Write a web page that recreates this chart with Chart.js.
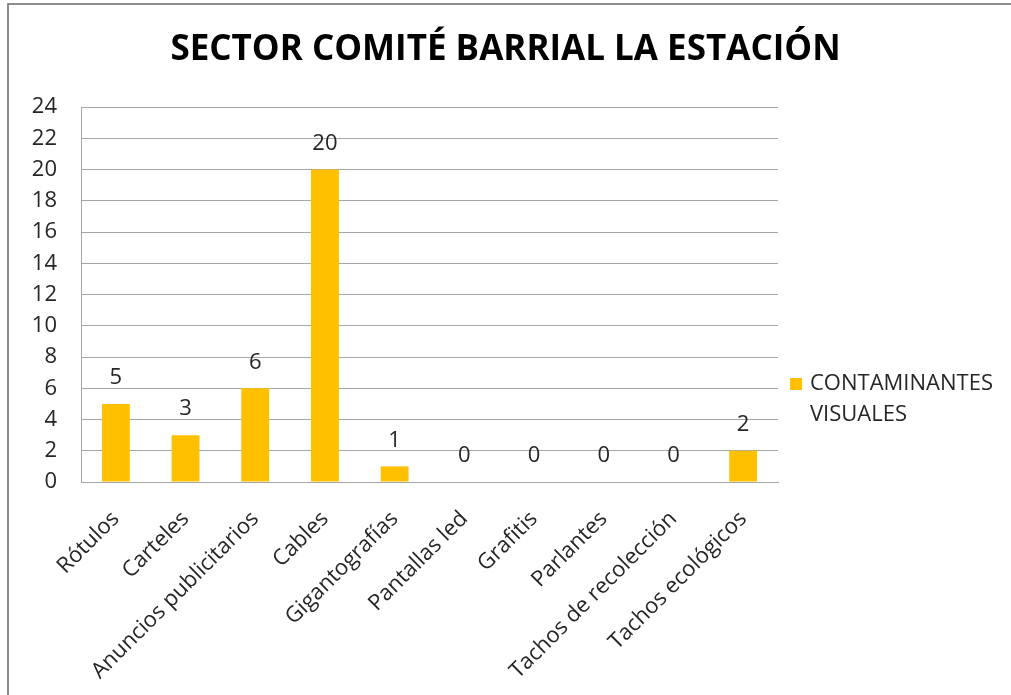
<!DOCTYPE html>
<html lang="es">
<head>
    <meta charset="UTF-8">
    <title>Sector Comité Barrial La Estación</title>
    <style>
        body { margin: 0; background: #fff; }
        #marco { position: absolute; left: 7px; top: 3px; width: 1010px; height: 700px;
                 border-top: 2px solid #8c8c8c; border-left: 2px solid #8c8c8c; pointer-events: none; }
        #grafico { position: absolute; left: 0; top: 0; }
    </style>
</head>
<body>
<canvas id="grafico" width="1011" height="695"></canvas>
<div id="marco"></div>

<script src="https://cdn.jsdelivr.net/npm/chart.js"></script>

<script>
    // datos
    const categorias = ['Rótulos', 'Carteles', 'Anuncios publicitarios', 'Cables', 'Gigantografías',
        'Pantallas led', 'Grafitis', 'Parlantes', 'Tachos de recolección', 'Tachos ecológicos']
    const cantidades = [5, 3, 6, 20, 1, 0, 0, 0, 0, 2]
    const nombreSerie = 'CONTAMINANTES VISUALES'
    const ticksY = [0, 2, 4, 6, 8, 10, 12, 14, 16, 18, 20, 22, 24]

    const fuente = "'Open Sans', sans-serif"
    const gris = '#a6a6a6'

    // numeros encima de cada barra
    const etiquetas = {
        id: 'etiquetas',
        afterDatasetsDraw(chart) {
            const ctx = chart.ctx
            ctx.save()
            ctx.font = '22px ' + fuente
            ctx.fillStyle = '#262626'
            ctx.textAlign = 'center'
            ctx.textBaseline = 'middle'
            chart.getDatasetMeta(0).data.forEach((barra, i) => {
                ctx.fillText(chart.data.datasets[0].data[i], barra.x, barra.y - 26)
            })
            ctx.restore()
        }
    }

    // leyenda a la derecha en dos lineas
    const leyenda = {
        id: 'leyenda',
        afterDraw(chart) {
            const ctx = chart.ctx
            const area = chart.chartArea
            const ds = chart.data.datasets[0]
            const x = area.right + 12
            const y = area.top + 277
            ctx.save()
            ctx.fillStyle = ds.backgroundColor
            ctx.fillRect(x, y - 6, 12, 12)
            ctx.font = '22px ' + fuente
            ctx.fillStyle = '#262626'
            ctx.textBaseline = 'middle'
            ds.label.split(' ').forEach((linea, i) => ctx.fillText(linea, x + 20, y + i * 31))
            ctx.restore()
        }
    }

    const ctx = document.getElementById('grafico')
    const grafico = new Chart(ctx, {
        type: 'bar',
        data: {
            labels: categorias,
            datasets: [{
                label: nombreSerie,
                data: cantidades,
                backgroundColor: '#ffc000',
                barPercentage: 0.8,
                categoryPercentage: 0.5
            }]
        },
        plugins: [etiquetas, leyenda],
        options: {
            responsive: false,
            animation: false,
            layout: { padding: 0 },
            plugins: {
                legend: { display: false },
                tooltip: { enabled: false },
                title: {
                    display: true,
                    text: 'SECTOR COMITÉ BARRIAL LA ESTACIÓN',
                    color: '#000',
                    font: { family: fuente, size: 35, weight: 'bold' },
                    padding: { top: 29, bottom: 36 }
                }
            },
            scales: {
                x: {
                    grid: { display: false, drawTicks: false },
                    border: { color: gris, width: 1 },
                    ticks: {
                        color: '#262626',
                        font: { family: fuente, size: 22 },
                        minRotation: 45,
                        maxRotation: 45,
                        padding: 24
                    },
                    afterFit(scale) { scale.height = 213 }
                },
                y: {
                    min: 0,
                    max: 24,
                    afterBuildTicks(scale) { scale.ticks = ticksY.map(v => ({ value: v })) },
                    grid: { color: gris, drawTicks: false },
                    border: { color: gris, width: 1 },
                    ticks: {
                        color: '#262626',
                        font: { family: fuente, size: 22 },
                        padding: 24
                    },
                    afterFit(scale) { scale.width = 81 }
                },
                // eje vacio a la derecha que deja sitio para la leyenda
                hueco: {
                    position: 'right',
                    display: true,
                    grid: { display: false, drawTicks: false },
                    border: { display: false },
                    ticks: { display: false },
                    afterFit(scale) { scale.width = 233 }
                }
            }
        }
    })
</script>
</body>
</html>
